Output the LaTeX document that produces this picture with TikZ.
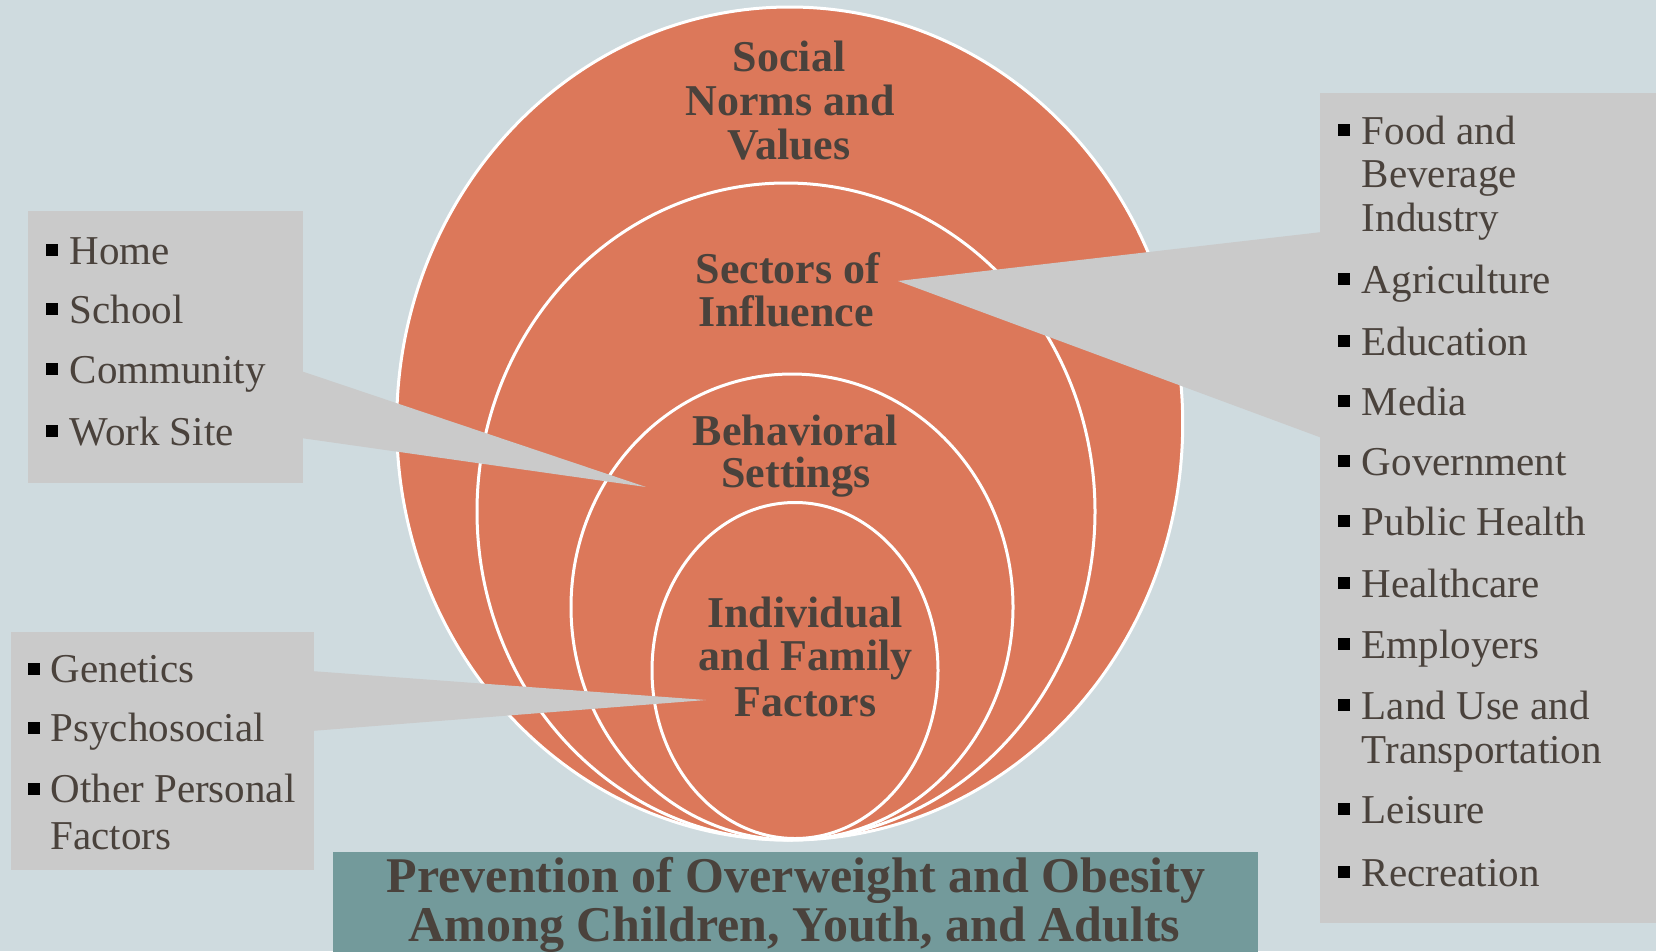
\documentclass[tikz,border=0pt]{standalone}
\usepackage{fontspec}
\setmainfont{Liberation Serif}
\usetikzlibrary{shapes.geometric}
\definecolor{bgc}{HTML}{CFDBDF}
\definecolor{ringc}{HTML}{DC785A}
\definecolor{boxc}{HTML}{CACACA}
\definecolor{titlec}{HTML}{739A9B}
\definecolor{txtc}{HTML}{4A423C}
\begin{document}
\begin{tikzpicture}[x=1pt,y=-1pt,
  ring/.style={ellipse, draw=white, line width=3pt, fill=ringc, inner sep=0pt},
  lbl/.style={anchor=base, text=txtc, inner sep=0pt, font=\fontsize{44}{44}\selectfont\bfseries},
  ttl/.style={anchor=base, text=txtc, inner sep=0pt, font=\fontsize{50}{50}\selectfont\bfseries},
  itm/.style={anchor=base west, text=txtc, inner sep=0pt, font=\fontsize{41}{44}\selectfont},
  callbox/.style={fill=boxc, anchor=north west, inner sep=0pt, draw=none},
  bulsq/.style={fill=black}]
\fill[bgc] (0,0) rectangle (1656,951);
\useasboundingbox (0,0) rectangle (1656,951);

% nested ellipses
\node[ring, minimum width=786pt, minimum height=833pt] (outer) at (789.7,423.5) {};
\node[ring, minimum width=618pt, minimum height=657pt] (sectors) at (786,511.5) {};
\node[ring, minimum width=442pt, minimum height=466pt] (behav) at (792,607) {};
\node[ring, minimum width=286pt, minimum height=336pt] (indiv) at (795,670.5) {};

% ellipse labels
\node[lbl] (l1) at (789,71.7) {Social};
\node[lbl] (l2) at (790,115) {Norms and};
\node[lbl] (l3) at (789,159) {Values};
\node[lbl] (l4) at (788,283) {Sectors of};
\node[lbl] (l5) at (786,326) {Influence};
\node[lbl] (l6) at (795.5,445) {Behavioral};
\node[lbl] (l7) at (796,487) {Settings};
\node[lbl] (l8) at (805,627.7) {Individual};
\node[lbl] (l9) at (805.5,670) {and Family};
\node[lbl] (l10) at (805.5,716) {Factors};

% callout 1: behavioral settings
\node[callbox, minimum width=275pt, minimum height=272pt] (b1) at (28,211) {};
\coordinate (t1) at (646,487);
\fill[boxc] (301,371) -- (t1) -- (301,438) -- cycle;
\foreach \b/\t in {264.3/Home, 323/School, 383/Community, 445/Work Site}{
  \fill[bulsq] (46,\b-20) rectangle ++(12,12);
  \node[itm] at (69.5,\b) {\t};
}

% callout 2: individual factors
\node[callbox, minimum width=303pt, minimum height=238.5pt] (b2) at (10.5,631.5) {};
\coordinate (t2) at (706,700);
\fill[boxc] (311,671) -- (t2) -- (311,731) -- cycle;
\foreach \b in {682.7, 741.7, 802.7}{
  \fill[bulsq] (28,\b-20) rectangle ++(12,12);
}
\foreach \b/\t in {682.7/Genetics, 741.7/Psychosocial, 802.7/Other Personal, 849/Factors}{
  \node[itm] at (50.5,\b) {\t};
}

% callout 3: sectors of influence
\node[callbox, minimum width=345pt, minimum height=830.7pt] (b3) at (1320,92.3) {};
\coordinate (t3) at (898,281);
\fill[boxc] (1322,232) -- (t3) -- (1322,438) -- cycle;
\foreach \b in {144, 293, 355, 415, 475, 535, 597, 658, 719, 823, 886}{
  \fill[bulsq] (1338.3,\b-20) rectangle ++(12,12);
}
\foreach \b/\t in {144/Food and, 187/Beverage, 231.7/Industry, 293/Agriculture,
  355/Education, 415/Media, 475/Government, 535/Public Health, 597/Healthcare,
  658/Employers, 719/Land Use and, 763/Transportation, 823/Leisure, 886/Recreation}{
  \node[itm] at (1361.7,\b) {\t};
}

% title
\node[fill=titlec, anchor=north west, inner sep=0pt, minimum width=925pt, minimum height=110pt] (title) at (333,851.7) {};
\node[ttl] (tl1) at (796,892.7) {Prevention of Overweight and Obesity};
\node[ttl] (tl2) at (794.5,941.7) {Among Children, Youth, and Adults};
\end{tikzpicture}
\end{document}
